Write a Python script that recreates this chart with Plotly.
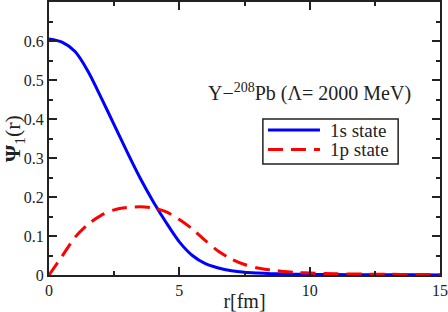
import plotly.graph_objects as go

r = [0, 0.5, 1.0, 1.5, 2.0, 2.5, 3.0, 3.5, 4.0, 4.5, 5.0, 5.5, 6.0, 6.5, 7.0, 7.5,
     8.0, 8.5, 9.0, 9.5, 10, 11, 12, 13, 14, 15]
psi_1s = [0.605, 0.597, 0.573, 0.522, 0.455, 0.385, 0.315, 0.248, 0.188, 0.134,
          0.085, 0.050, 0.029, 0.018, 0.011, 0.007, 0.005, 0.0035, 0.0025, 0.002,
          0.0015, 0.001, 0.0007, 0.0005, 0.0004, 0.0003]
psi_1p = [0.0, 0.048, 0.097, 0.130, 0.153, 0.167, 0.173, 0.175, 0.172, 0.162,
          0.142, 0.118, 0.088, 0.061, 0.041, 0.027, 0.018, 0.013, 0.009, 0.0065,
          0.005, 0.0033, 0.0024, 0.0018, 0.0014, 0.001]
series_names = ["1s state", "1p state"]
series_colors = ["#0000ff", "#ff0000"]
series_dash = ["solid", "15px,8px"]

serif = "Liberation Serif"
ink = "#222"

fig = go.Figure()
for name, ys, col, dash in zip(series_names, [psi_1s, psi_1p], series_colors, series_dash):
    fig.add_trace(go.Scatter(x=r, y=ys, mode="lines", name=name,
                             line=dict(color=col, width=3, dash=dash,
                                       shape="spline", smoothing=0.8)))

axis_common = dict(showline=True, linecolor=ink, linewidth=2, mirror="ticks",
                   ticks="inside", ticklen=8, tickwidth=1.5, tickcolor=ink,
                   showgrid=False, zeroline=False, automargin=False,
                   tickfont=dict(family=serif, size=16, color=ink))

fig.update_xaxes(range=[0, 15], tickvals=[0, 5, 10, 15], ticktext=["0", "5", "10", "15"],
                 minor=dict(dtick=2.5, tick0=0, ticks="inside", ticklen=4, tickcolor=ink),
                 title=dict(text="r[fm]", font=dict(family=serif, size=20, color=ink), standoff=0),
                 **axis_common)
fig.update_yaxes(range=[0, 0.7], tickvals=[0, 0.1, 0.2, 0.3, 0.4, 0.5, 0.6],
                 ticktext=["0", "0.1", "0.2", "0.3", "0.4", "0.5", "0.6"],
                 minor=dict(dtick=0.05, tick0=0, ticks="inside", ticklen=4, tickcolor=ink),
                 title=dict(text="<b>Ψ</b><sub>1</sub>(r)", font=dict(family=serif, size=22, color=ink), standoff=2),
                 **axis_common)

fig.add_annotation(x=0.665, y=0.667, xref="paper", yref="paper",
                   text="Y−<sup>208</sup>Pb (Λ= 2000 MeV)", showarrow=False,
                   font=dict(family=serif, size=20, color=ink), xanchor="center", yanchor="middle")

# legend box drawn in paper coordinates
fig.add_shape(type="rect", xref="paper", yref="paper", x0=0.547, x1=0.893, y0=0.407, y1=0.571,
              line=dict(color=ink, width=1.5), fillcolor="white", layer="above")
for i, (name, col, dash) in enumerate(zip(series_names, series_colors, series_dash)):
    yy = 0.531 - i * 0.071
    fig.add_shape(type="line", xref="paper", yref="paper", x0=0.560, x1=0.693, y0=yy, y1=yy,
                  line=dict(color=col, width=3, dash=dash), layer="above")
    fig.add_annotation(x=0.713, y=yy, xref="paper", yref="paper", text=name, showarrow=False,
                       xanchor="left", yanchor="middle",
                       font=dict(family=serif, size=19, color=ink))

fig.update_layout(
    width=448, height=312,
    margin=dict(l=49, r=8, t=2, b=37),
    paper_bgcolor="white", plot_bgcolor="white",
    showlegend=False,
)

fig.write_html("out.html", config={"displayModeBar": False},
               post_script="document.body.style.margin='0';document.body.style.padding='0';")
